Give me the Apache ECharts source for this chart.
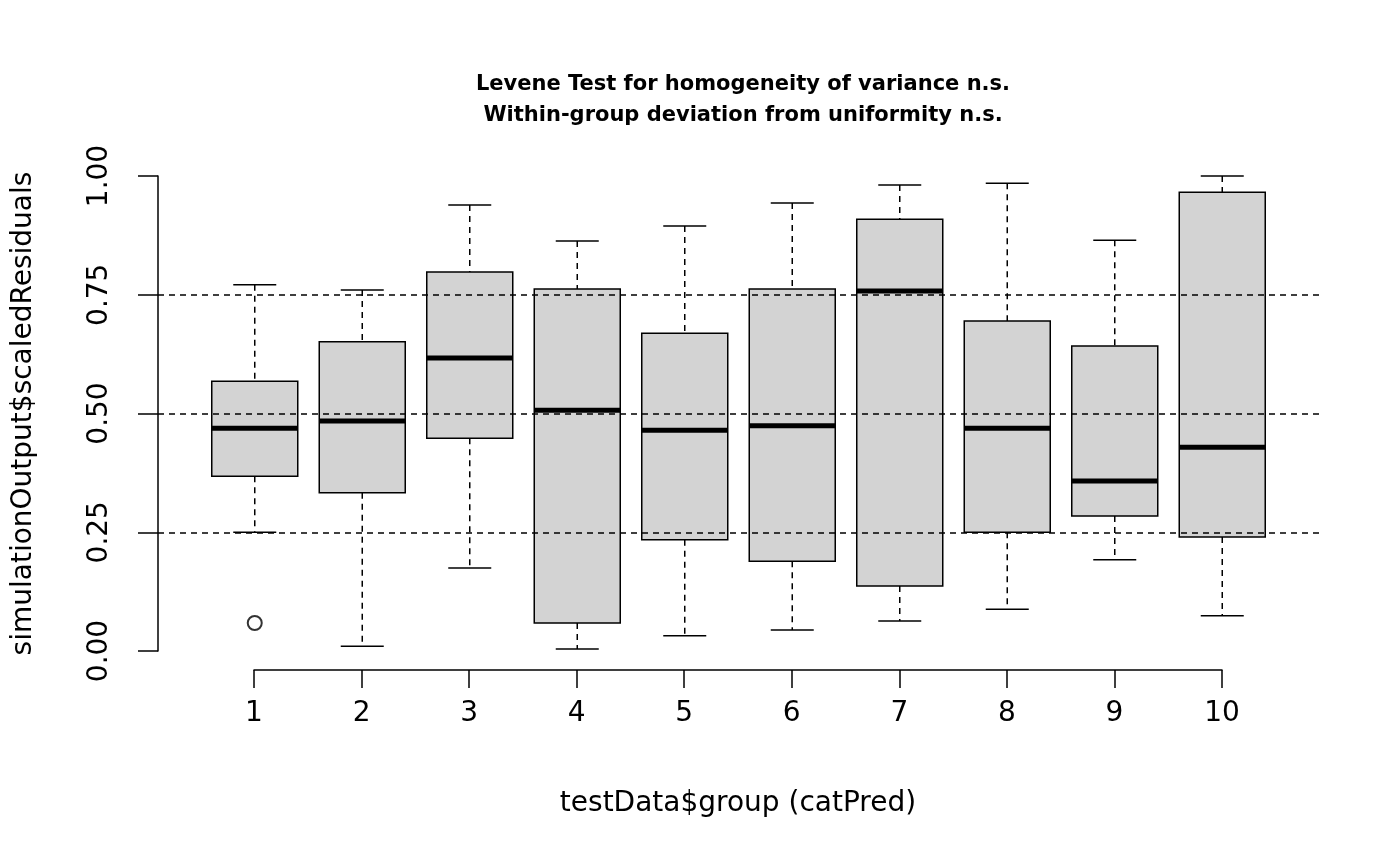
<!DOCTYPE html>
<html><head><meta charset="utf-8">
<script src="https://cdn.jsdelivr.net/npm/echarts@6/dist/echarts.min.js"></script>
<style>html,body{margin:0;padding:0;background:#fff}#c{width:1400px;height:866px}</style>
</head><body><div id="c"></div>
<script>
const groups = [1,2,3,4,5,6,7,8,9,10];
const lowWhisker = [0.250,0.010,0.175,0.004,0.032,0.044,0.063,0.088,0.192,0.074];
const q1 =        [0.368,0.333,0.448,0.059,0.234,0.189,0.137,0.250,0.284,0.240];
const median =    [0.469,0.484,0.617,0.507,0.465,0.474,0.758,0.469,0.358,0.429];
const q3 =        [0.568,0.651,0.798,0.762,0.669,0.762,0.909,0.695,0.642,0.966];
const highWhisker=[0.771,0.760,0.939,0.863,0.895,0.943,0.981,0.985,0.865,1.000];
const outliers = [[1,0.059]];
const yTicks = [0,0.25,0.5,0.75,1];
const refLines = [0.25,0.5,0.75];

const boxData = groups.map((g,i)=>[g,lowWhisker[i],q1[i],median[i],q3[i],highWhisker[i]]);
const font = 'DejaVu Sans';
const chart = echarts.init(document.getElementById('c'));
chart.setOption({
  animation:false,
  title:{text:'Levene Test for homogeneity of variance n.s.\nWithin-group deviation from uniformity n.s.',
    left:738, top:64, textAlign:'center',
    textStyle:{fontFamily:font,fontWeight:'bold',fontSize:21,lineHeight:31,color:'#000'}},
  grid:[
    {left:158,right:81,top:157,bottom:196},
    {left:158,right:81,top:176,bottom:215},
    {left:254,right:178,top:157,bottom:196}
  ],
  xAxis:[
    {gridIndex:0,type:'value',min:0.1,max:10.9,show:false},
    {gridIndex:1,type:'value',min:0,max:1,show:false},
    {gridIndex:2,type:'value',min:1,max:10,interval:1,position:'bottom',
      axisLine:{onZero:false,lineStyle:{color:'#000',width:1.5}},axisTick:{length:18,lineStyle:{color:'#000',width:1.5}},
      splitLine:{show:false},
      axisLabel:{fontFamily:font,fontSize:28,color:'#000',margin:30},
      name:'testData$group (catPred)',nameLocation:'middle',nameGap:120,
      nameTextStyle:{fontFamily:font,fontSize:28,color:'#000'}}
  ],
  yAxis:[
    {gridIndex:0,type:'value',min:-0.04,max:1.04,show:false},
    {gridIndex:1,type:'value',min:0,max:1,interval:0.25,
      axisLine:{show:true,lineStyle:{color:'#000',width:1.5}},axisTick:{show:true,length:20,lineStyle:{color:'#000',width:1.5}},
      splitLine:{show:false},
      axisLabel:{fontFamily:font,fontSize:28,color:'#000',rotate:90,margin:44,align:'center',
        formatter:v=>v.toFixed(2)},
      name:'simulationOutput$scaledResiduals',nameLocation:'middle',nameGap:120,
      nameTextStyle:{fontFamily:font,fontSize:28,color:'#000'}},
    {gridIndex:2,type:'value',min:-0.04,max:1.04,show:false}
  ],
  series:[
    {type:'custom',xAxisIndex:0,yAxisIndex:0,data:boxData,
      renderItem:function(params,api){
        const x=api.value(0);
        const half=0.4, cap=0.2;
        const p=k=>api.coord([x,api.value(k)]);
        const L=api.coord([x-half,0])[0], R=api.coord([x+half,0])[0];
        const cl=api.coord([x-cap,0])[0], cr=api.coord([x+cap,0])[0];
        const cx=api.coord([x,0])[0];
        const lw=p(1)[1], a=p(2)[1], m=p(3)[1], b=p(4)[1], hw=p(5)[1];
        const blk={stroke:'#000',lineWidth:1.5};
        return {type:'group',children:[
          {type:'line',shape:{x1:cx,y1:hw,x2:cx,y2:b},style:{stroke:'#000',lineWidth:1.5,lineDash:[6,5]}},
          {type:'line',shape:{x1:cx,y1:a,x2:cx,y2:lw},style:{stroke:'#000',lineWidth:1.5,lineDash:[6,5]}},
          {type:'line',shape:{x1:cl,y1:hw,x2:cr,y2:hw},style:blk},
          {type:'line',shape:{x1:cl,y1:lw,x2:cr,y2:lw},style:blk},
          {type:'rect',shape:{x:L,y:b,width:R-L,height:a-b},style:{fill:'#d3d3d3',stroke:'#000',lineWidth:1.5}},
          {type:'line',shape:{x1:L,y1:m,x2:R,y2:m},style:{stroke:'#000',lineWidth:5}}
        ]};
      },
      markLine:{silent:true,symbol:'none',label:{show:false},
        lineStyle:{color:'#000',type:[6,5],width:1.5},
        data:refLines.map(v=>({yAxis:v}))}
    },
    {type:'scatter',xAxisIndex:0,yAxisIndex:0,data:outliers,symbol:'emptyCircle',symbolSize:14,
      itemStyle:{color:'#000',borderColor:'#000',borderWidth:1.5}}
  ]
});
</script></body></html>
